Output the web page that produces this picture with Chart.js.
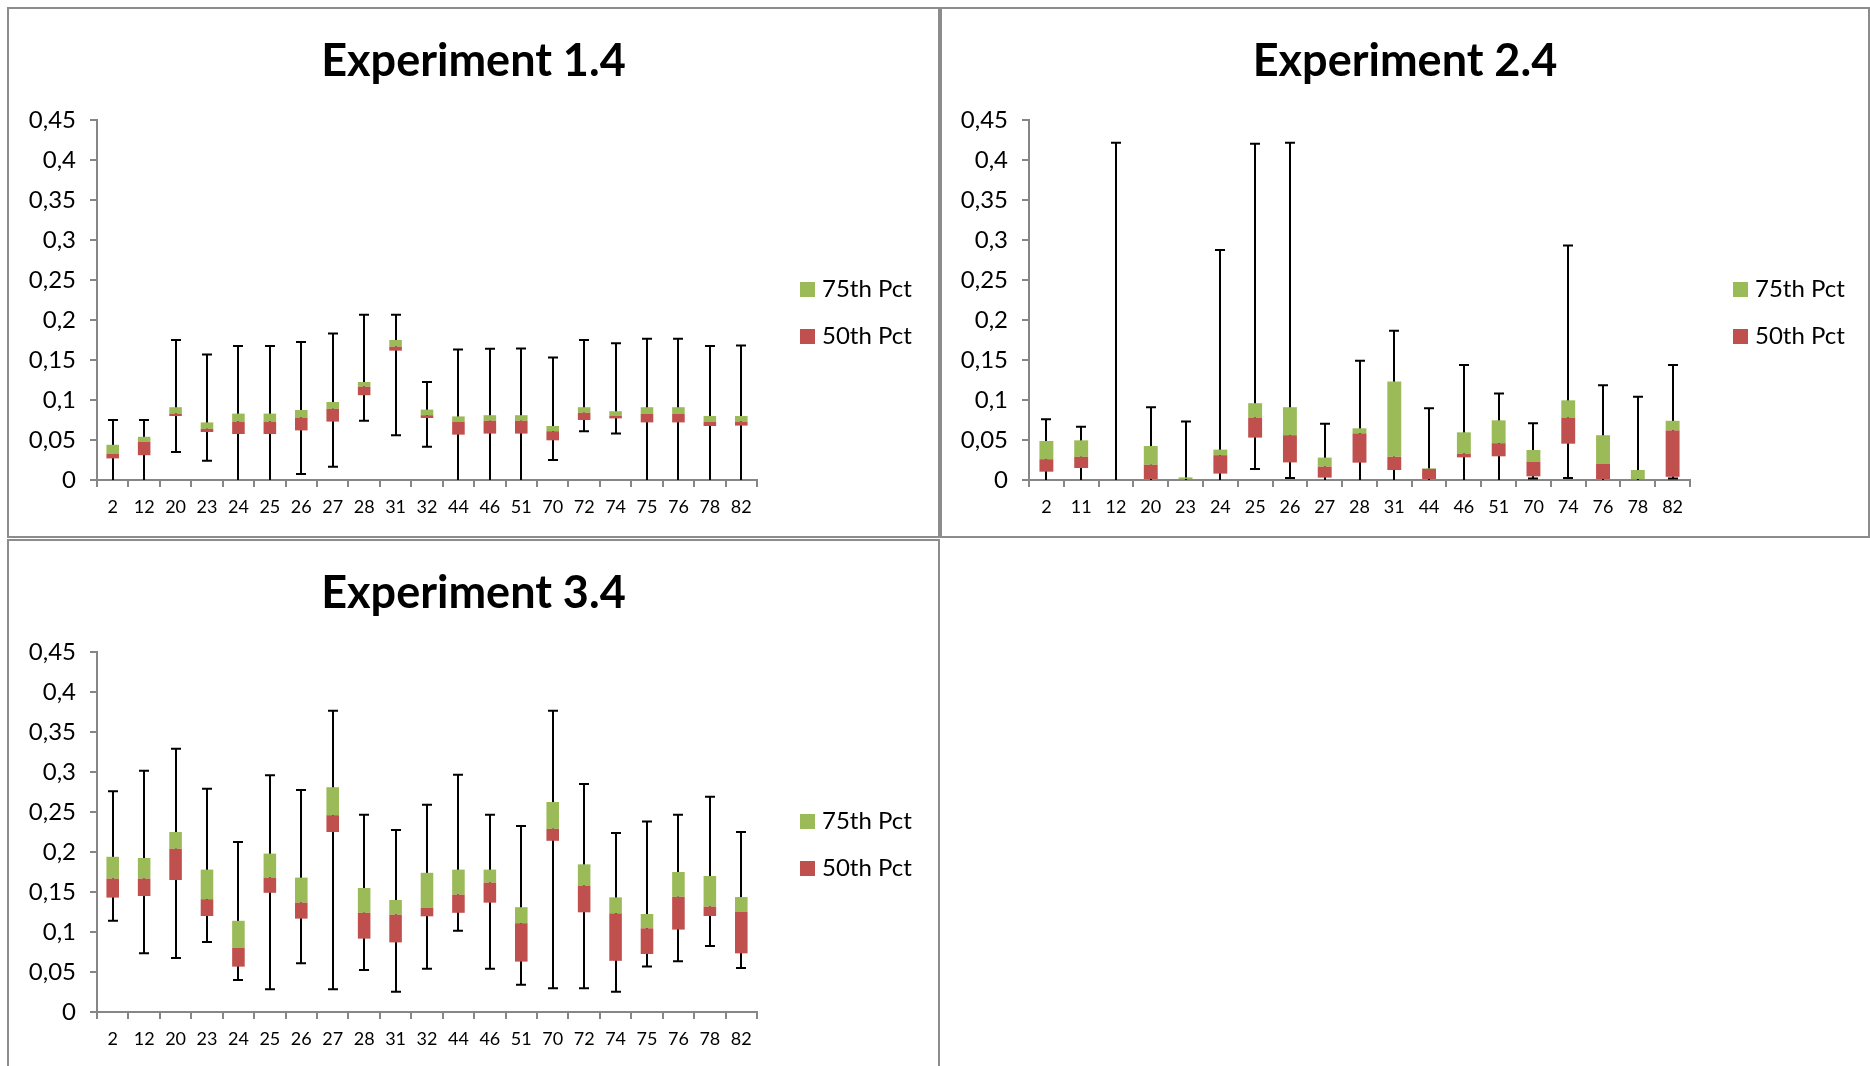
<!DOCTYPE html>
<html>
<head>
<meta charset="utf-8">
<title>Experiments – box plots</title>
<script src="https://cdn.jsdelivr.net/npm/chart.js@4.4.1/dist/chart.umd.min.js"></script>
<style>
  html, body { margin: 0; padding: 0; background: #fff; }
  body { width: 1870px; height: 1066px; position: relative; overflow: hidden; }
  .panel { position: absolute; }
  .panel canvas { position: absolute; left: 0; top: 0; }
  .frame { position: absolute; left: 0; top: 0; right: 0; bottom: 0; border: 2px solid #8c8c8c; box-sizing: border-box; pointer-events: none; }
</style>
</head>
<body>
<div class="panel" style="left:7px;top:7px;width:933px;height:531px"><canvas id="c1" width="933" height="531"></canvas><div class="frame"></div></div>
<div class="panel" style="left:940px;top:7px;width:930px;height:531px"><canvas id="c2" width="930" height="531"></canvas><div class="frame"></div></div>
<div class="panel" style="left:7px;top:539px;width:933px;height:531px"><canvas id="c3" width="933" height="531"></canvas><div class="frame"></div></div>
<script>
// Value axis
const yTickValues = [0, 0.05, 0.1, 0.15, 0.2, 0.25, 0.3, 0.35, 0.4, 0.45];
const yTickLabels = ['0', '0,05', '0,1', '0,15', '0,2', '0,25', '0,3', '0,35', '0,4', '0,45'];

// Experiment 1.4
const exp1Labels = ['2','12','20','23','24','25','26','27','28','31','32','44','46','51','70','72','74','75','76','78','82'];
const exp1Min    = [0, 0, 0.035, 0.024, 0, 0, 0.0075, 0.0167, 0.074, 0.056, 0.0417, 0, 0, 0, 0.025, 0.061, 0.058, 0, 0, 0, 0];
const exp1Q1     = [0.027, 0.031, 0.080, 0.060, 0.0575, 0.0575, 0.062, 0.073, 0.106, 0.1617, 0.0775, 0.0567, 0.058, 0.058, 0.0496, 0.075, 0.077, 0.072, 0.072, 0.0675, 0.068];
const exp1Median = [0.0325, 0.0475, 0.083, 0.064, 0.073, 0.073, 0.078, 0.089, 0.1167, 0.1667, 0.081, 0.0725, 0.074, 0.074, 0.061, 0.084, 0.080, 0.0825, 0.0825, 0.0725, 0.073];
const exp1Q3     = [0.044, 0.054, 0.091, 0.072, 0.083, 0.083, 0.0875, 0.0975, 0.1225, 0.175, 0.088, 0.0795, 0.081, 0.081, 0.0675, 0.091, 0.086, 0.091, 0.091, 0.080, 0.080];
const exp1Max    = [0.075, 0.075, 0.175, 0.157, 0.1675, 0.1675, 0.1725, 0.183, 0.2067, 0.2067, 0.1225, 0.163, 0.164, 0.1645, 0.153, 0.175, 0.171, 0.1767, 0.1767, 0.1675, 0.168];

// Experiment 2.4
const exp2Labels = ['2','11','12','20','23','24','25','26','27','28','31','44','46','51','70','74','76','78','82'];
const exp2Min    = [0, 0, 0, 0, 0, 0, 0.0138, 0.0025, 0, 0, 0, 0, 0, 0, 0.002, 0.0025, 0, 0, 0.002];
const exp2Q1     = [0.0104, 0.015, 0, 0, 0, 0.008, 0.053, 0.022, 0.003, 0.0217, 0.0125, 0, 0.0283, 0.0296, 0.0046, 0.0454, 0, 0, 0.004];
const exp2Median = [0.026, 0.029, 0, 0.019, 0, 0.031, 0.078, 0.056, 0.0167, 0.0583, 0.029, 0.0138, 0.033, 0.046, 0.0225, 0.078, 0.020, 0, 0.062];
const exp2Q3     = [0.0488, 0.0496, 0, 0.0425, 0.0033, 0.038, 0.096, 0.091, 0.028, 0.0646, 0.123, 0.0146, 0.0596, 0.0746, 0.0375, 0.0996, 0.056, 0.0125, 0.074];
const exp2Max    = [0.0758, 0.0667, 0.4217, 0.091, 0.073, 0.2875, 0.4204, 0.4217, 0.0704, 0.149, 0.1867, 0.0896, 0.1437, 0.108, 0.0708, 0.293, 0.1183, 0.104, 0.1437];

// Experiment 3.4
const exp3Labels = ['2','12','20','23','24','25','26','27','28','31','32','44','46','51','70','72','74','75','76','78','82'];
const exp3Min    = [0.114, 0.0733, 0.0675, 0.0875, 0.040, 0.0283, 0.061, 0.0283, 0.0525, 0.0254, 0.054, 0.1017, 0.054, 0.034, 0.0296, 0.0296, 0.0254, 0.057, 0.0633, 0.0825, 0.055];
const exp3Q1     = [0.143, 0.145, 0.165, 0.120, 0.0567, 0.149, 0.1167, 0.225, 0.0917, 0.087, 0.1196, 0.124, 0.1367, 0.063, 0.214, 0.1246, 0.064, 0.0725, 0.103, 0.120, 0.0733];
const exp3Median = [0.1667, 0.1667, 0.204, 0.141, 0.080, 0.168, 0.1367, 0.246, 0.124, 0.1217, 0.130, 0.1467, 0.1617, 0.111, 0.229, 0.158, 0.1233, 0.1046, 0.144, 0.1317, 0.125];
const exp3Q3     = [0.194, 0.1925, 0.225, 0.178, 0.114, 0.198, 0.168, 0.281, 0.155, 0.140, 0.174, 0.178, 0.178, 0.131, 0.2625, 0.1846, 0.1433, 0.1225, 0.175, 0.170, 0.1437];
const exp3Max    = [0.276, 0.3017, 0.329, 0.279, 0.2125, 0.296, 0.2775, 0.3767, 0.2467, 0.2275, 0.259, 0.2967, 0.2467, 0.2325, 0.3767, 0.285, 0.2237, 0.238, 0.2467, 0.269, 0.225];

const GREEN = '#9BBB59';
const RED = '#C0504D';
const AXIS = '#868686';

Chart.defaults.font.family = 'Lato';
Chart.defaults.color = '#000';

// Min/max whiskers, drawn behind the boxes
function whiskers(lo, hi) {
  return {
    id: 'whiskers',
    beforeDatasetsDraw(chart) {
      const { ctx, scales: { x, y } } = chart;
      ctx.save();
      ctx.strokeStyle = '#000';
      ctx.lineWidth = 2;
      lo.forEach((v, i) => {
        const px = Math.round(x.getPixelForValue(i));
        const yTop = y.getPixelForValue(hi[i]);
        const yBot = y.getPixelForValue(v);
        ctx.beginPath();
        ctx.moveTo(px, yBot);
        ctx.lineTo(px, yTop);
        ctx.moveTo(px - 5, yTop);
        ctx.lineTo(px + 5, yTop);
        if (v > 0) {
          ctx.moveTo(px - 5, yBot);
          ctx.lineTo(px + 5, yBot);
        }
        ctx.stroke();
      });
      ctx.restore();
    }
  };
}

// Legend to the right of the plot: last series first
const sideLegend = {
  id: 'sideLegend',
  afterDraw(chart) {
    const { ctx, chartArea } = chart;
    const items = chart.data.datasets.slice().reverse();
    ctx.save();
    ctx.font = '24px Lato';
    ctx.textBaseline = 'alphabetic';
    ctx.textAlign = 'left';
    items.forEach((ds, k) => {
      const bx = chartArea.right + 43;
      const by = chartArea.top + 162 + k * 47;
      ctx.fillStyle = ds.backgroundColor;
      ctx.fillRect(bx, by, 15, 15);
      ctx.fillStyle = '#000';
      ctx.fillText(ds.label, bx + 22, by + 15);
    });
    ctx.restore();
  }
};

function makeChart(id, title, labels, lo, q1, med, q3, hi, axisLeft) {
  const canvas = document.getElementById(id);
  const W = canvas.width, H = canvas.height;
  return new Chart(canvas, {
    type: 'bar',
    data: {
      labels: labels,
      datasets: [
        { label: '50th Pct', data: labels.map((_, i) => [q1[i], med[i]]), backgroundColor: RED },
        { label: '75th Pct', data: labels.map((_, i) => [med[i], q3[i]]), backgroundColor: GREEN }
      ]
    },
    options: {
      responsive: false,
      animation: false,
      devicePixelRatio: 1,
      layout: { padding: 0 },
      datasets: { bar: { grouped: false, categoryPercentage: 1, barPercentage: 0.4, borderWidth: 0 } },
      plugins: {
        legend: { display: false },
        tooltip: { enabled: false },
        title: {
          display: true,
          text: title,
          color: '#000',
          font: { family: 'Lato', size: 45, weight: 'bold', lineHeight: 1 },
          padding: { top: 32, bottom: 36 }
        }
      },
      scales: {
        x: {
          grid: { display: true, drawOnChartArea: false, drawTicks: true, tickLength: 7, color: AXIS, lineWidth: 2, offset: true },
          border: { display: true, color: AXIS, width: 2 },
          ticks: { color: '#000', font: { family: 'Lato', size: 18 }, padding: 9, maxRotation: 0, autoSkip: false },
          afterFit(s) { s.height = H - 473; }
        },
        y: {
          min: 0,
          max: 0.45,
          afterBuildTicks(s) { s.ticks = yTickValues.map(v => ({ value: v })); },
          ticks: { color: '#000', font: { family: 'Lato', size: 24 }, padding: 14, callback: (v, i) => yTickLabels[i] },
          grid: { display: true, drawOnChartArea: false, drawTicks: true, tickLength: 7, color: AXIS, lineWidth: 2 },
          border: { display: true, color: AXIS, width: 2 },
          afterFit(s) { s.width = axisLeft; }
        },
        // empty band on the right that holds the legend
        legendBand: {
          type: 'linear',
          position: 'right',
          display: true,
          grid: { display: false },
          border: { display: false },
          ticks: { display: false },
          afterFit(s) { s.width = W - 750; }
        }
      }
    },
    plugins: [whiskers(lo, hi), sideLegend]
  });
}

makeChart('c1', 'Experiment 1.4', exp1Labels, exp1Min, exp1Q1, exp1Median, exp1Q3, exp1Max, 90);
makeChart('c2', 'Experiment 2.4', exp2Labels, exp2Min, exp2Q1, exp2Median, exp2Q3, exp2Max, 89);
makeChart('c3', 'Experiment 3.4', exp3Labels, exp3Min, exp3Q1, exp3Median, exp3Q3, exp3Max, 90);
</script>
</body>
</html>
